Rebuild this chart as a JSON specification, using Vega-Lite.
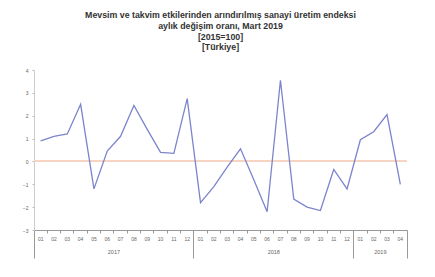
{
  "$schema": "https://vega.github.io/schema/vega-lite/v6.json",
  "width": 373,
  "height": 160,
  "autosize": "none",
  "padding": {"left": 34, "top": 70, "right": 28, "bottom": 47},
  "background": "white",
  "title": {
    "text": ["Mevsim ve takvim etkilerinden arındırılmış sanayi üretim endeksi", "aylık değişim oranı, Mart 2019", "[2015=100]", "[Türkiye]"],
    "font": "Liberation Sans",
    "fontSize": 8.8,
    "fontWeight": "bold",
    "color": "#333333",
    "lineHeight": 10.6,
    "offset": 16,
    "anchor": "middle"
  },
  "data": {
    "values": [
      {"t": "2017-01", "v": 0.9},
      {"t": "2017-02", "v": 1.1},
      {"t": "2017-03", "v": 1.2},
      {"t": "2017-04", "v": 2.5},
      {"t": "2017-05", "v": -1.2},
      {"t": "2017-06", "v": 0.45},
      {"t": "2017-07", "v": 1.1},
      {"t": "2017-08", "v": 2.45},
      {"t": "2017-09", "v": 1.4},
      {"t": "2017-10", "v": 0.4},
      {"t": "2017-11", "v": 0.35},
      {"t": "2017-12", "v": 2.75},
      {"t": "2018-01", "v": -1.8},
      {"t": "2018-02", "v": -1.1},
      {"t": "2018-03", "v": -0.25},
      {"t": "2018-04", "v": 0.55},
      {"t": "2018-05", "v": -0.8},
      {"t": "2018-06", "v": -2.2},
      {"t": "2018-07", "v": 3.55},
      {"t": "2018-08", "v": -1.65},
      {"t": "2018-09", "v": -2.0},
      {"t": "2018-10", "v": -2.15},
      {"t": "2018-11", "v": -0.35},
      {"t": "2018-12", "v": -1.2},
      {"t": "2019-01", "v": 0.95},
      {"t": "2019-02", "v": 1.3},
      {"t": "2019-03", "v": 2.05},
      {"t": "2019-04", "v": -1.0}
    ]
  },
  "layer": [
    {
      "mark": {"type": "rule", "color": "#f7d3c2", "strokeWidth": 1.2},
      "encoding": {
        "y": {
          "datum": 0,
          "type": "quantitative",
          "axis": {
            "title": null,
            "values": [-3, -2, -1, 0, 1, 2, 3, 4],
            "grid": false,
            "labelFont": "Liberation Sans",
            "labelFontSize": 5,
            "labelColor": "#666666",
            "labelPadding": 4,
            "tickSize": 2,
            "tickColor": "#bbbbbb",
            "domainColor": "#cccccc"
          }
        }
      }
    },
    {
      "mark": {"type": "line", "color": "#7c84cc", "strokeWidth": 1.3},
      "encoding": {
        "x": {
          "field": "t",
          "type": "ordinal",
          "bandPosition": 0.5,
          "scale": {"type": "band", "paddingInner": 0, "paddingOuter": 0},
          "axis": {
            "title": null,
            "orient": "bottom",
            "labelAngle": 0,
            "labelExpr": "slice(datum.value, 5)",
            "labelFont": "Liberation Sans",
            "labelFontSize": 5,
            "labelColor": "#666666",
            "labelPadding": 6,
            "ticks": false,
            "domainColor": "#999999",
            "domainWidth": 1,
            "labelOverlap": false
          }
        },
        "y": {
          "field": "v",
          "type": "quantitative",
          "scale": {"domain": [-3, 4], "nice": false, "zero": false},
          "axis": {
            "title": null,
            "values": [-3, -2, -1, 0, 1, 2, 3, 4],
            "grid": false,
            "labelFont": "Liberation Sans",
            "labelFontSize": 5,
            "labelColor": "#666666",
            "labelPadding": 4,
            "tickSize": 2,
            "tickColor": "#bbbbbb",
            "domainColor": "#cccccc"
          }
        }
      }
    },
    {
      "mark": {"type": "point", "opacity": 0},
      "encoding": {
        "x": {
          "field": "t",
          "type": "ordinal",
          "axis": {
            "title": null,
            "orient": "bottom",
            "offset": 0,
            "domain": false,
            "bandPosition": 1,
            "tickExtra": true,
            "labelAngle": 0,
            "labelOffset": 6.66,
            "labelExpr": "datum.value ? ((slice(datum.value, 5) == '06' && slice(datum.value, 0, 4) != '2019') ? slice(datum.value, 0, 4) : (datum.value == '2019-02' ? '2019' : '')) : ''",
            "labelFont": "Liberation Sans",
            "labelFontSize": 5.5,
            "labelColor": "#666666",
            "labelPadding": 16,
            "labelOverlap": false,
            "tickColor": "#999999",
            "tickSize": {"condition": {"test": "!datum.value || datum.extra || slice(datum.value, 5) == '12' || datum.value == '2019-04'", "value": 28}, "value": 3}
          }
        },
        "y": {
          "field": "v",
          "type": "quantitative",
          "axis": {
            "title": null,
            "values": [-3, -2, -1, 0, 1, 2, 3, 4],
            "grid": false,
            "labelFont": "Liberation Sans",
            "labelFontSize": 5,
            "labelColor": "#666666",
            "labelPadding": 4,
            "tickSize": 2,
            "tickColor": "#bbbbbb",
            "domainColor": "#cccccc"
          }
        }
      }
    }
  ],
  "resolve": {"axis": {"x": "independent"}},
  "config": {"view": {"stroke": null}}
}
